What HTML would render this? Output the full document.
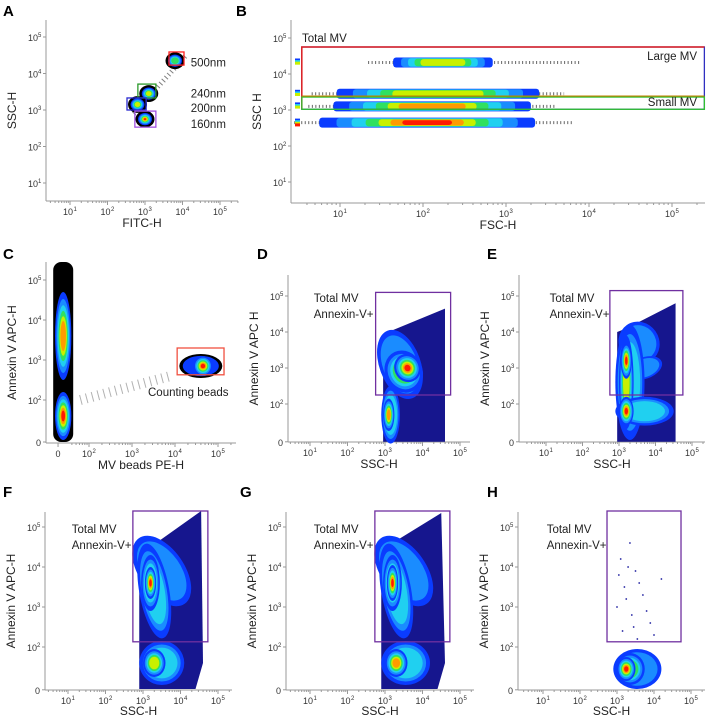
<!DOCTYPE html>
<html><head><meta charset="utf-8"><style>
html,body{margin:0;padding:0;background:#fff}
svg{display:block;font-family:"Liberation Sans",sans-serif}
</style></head><body>
<svg id="fig" width="708" height="718" viewBox="0 0 708 718" xmlns="http://www.w3.org/2000/svg"></svg>
<script>
// ---- data (log10 units) ----
const colors = ['#000000','#0a3cff','#1a8cff','#20d0f0','#30e060','#c8f000','#ff9a00','#ff1a00'];
const navy = '#16168e';
const levelScale = [1,0.84,0.7,0.57,0.45,0.34,0.23,0.13];

// Panel A bead populations
const aPopX = [3.8, 3.1, 2.8, 3.0];
const aPopY = [4.35, 3.45, 3.15, 2.75];
const aPopPeak = [4, 5, 5, 7];
const aBoxX0 = [3.64, 2.81, 2.52, 2.73];
const aBoxX1 = [4.04, 3.29, 3.03, 3.29];
const aBoxY0 = [4.23, 3.33, 3.0, 2.53];
const aBoxY1 = [4.59, 3.71, 3.33, 2.97];
const aBoxColor = ['#ff2020','#2a9a2a','#2a2ad0','#a050e0'];
const aLabels = ['500nm','240nm','200nm','160nm'];
const aLabelY = [4.3, 3.45, 3.05, 2.62];

// Panel B bands
const bBandY = [4.32, 3.45, 3.1, 2.65];
const bBandX0 = [1.64, 0.96, 0.92, 0.75];
const bBandX1 = [2.84, 3.4, 3.3, 3.35];
const bTailX = [3.9, 3.7, 3.6, 3.8];
const bBandPeak = [5, 5, 6, 7];
const bGateTotal = [0.54, 5.39, 3.02, 4.75];
const bGateSmall = [0.54, 5.39, 3.02, 3.36];

// Panel C
const cColX = 1.4;
const cBlobY = [3.6, 1.6];
const cBlobRy = [1.1, 0.6];
const cBlobPeak = [6, 7];
const cBeads = [4.6, 2.85];
const cGate = [4.05, 5.14, 2.63, 3.3];

// Panels D-H: background outline, blobs [cx,cy,rx,ry,rot,peak], gate
const dBgX = [2.95,2.95,3.2,4.6,4.6];
const dBgY = [0.95,3.85,4.05,4.65,0.95];
const dBlobs = [[3.4,3.1,0.55,1.0,-20,2],[3.5,2.9,0.5,0.6,-25,4],[3.6,3.0,0.35,0.4,-25,7],[3.15,1.7,0.25,0.8,0,3],[3.1,1.7,0.15,0.45,0,6]];
const dGate = [2.75,4.75,2.25,5.1];

const eBgX = [2.95,2.95,3.2,4.55,4.55];
const eBgY = [0.95,4.0,4.1,4.8,0.95];
const eBlobs = [[3.55,3.7,0.55,0.6,-35,2],[3.7,3.0,0.5,0.3,-20,2],[3.3,2.6,0.4,1.6,0,3],[3.2,2.6,0.2,1.3,0,5],[3.2,3.2,0.15,0.5,0,7],[3.7,1.8,0.8,0.4,0,3],[3.2,1.8,0.2,0.4,0,7]];
const eGate = [2.75,4.75,2.25,5.15];

const fBgX = [2.9,2.9,3.2,4.55,4.6,4.4];
const fBgY = [0.95,4.3,4.5,5.4,1.6,0.95];
const fBlobs = [[3.5,3.9,0.6,1.0,-35,2],[3.3,3.4,0.4,1.2,-10,3],[3.2,3.6,0.25,0.7,0,5],[3.2,3.6,0.15,0.4,0,7],[3.5,1.6,0.6,0.55,0,3],[3.3,1.6,0.3,0.35,0,5]];
const fGate = [2.73,4.73,2.13,5.4];

const gBgX = [2.9,2.9,3.2,4.5,4.6,4.4];
const gBgY = [0.95,4.3,4.6,5.35,1.6,0.95];
const gBlobs = [[3.5,3.9,0.6,1.0,-35,2],[3.3,3.4,0.4,1.2,-10,3],[3.2,3.6,0.25,0.7,0,5],[3.2,3.6,0.15,0.45,0,7],[3.55,1.6,0.65,0.55,0,3],[3.3,1.6,0.3,0.35,0,6]];
const gGate = [2.73,4.73,2.13,5.4];

const hBlobs = [[3.55,1.45,0.65,0.5,0,2],[3.35,1.45,0.4,0.4,0,4],[3.25,1.45,0.25,0.3,0,7]];
const hDotsX = [3.1,3.3,3.5,3.2,3.7,3.0,3.4,3.9,3.6,3.25,3.15,3.45,3.8,4.2,3.35,3.05,3.55,4.0];
const hDotsY = [4.2,4.0,3.9,3.5,3.3,3.0,2.8,2.6,3.6,3.2,2.4,2.5,2.9,3.7,4.6,3.8,2.2,2.3];
const hGate = [2.73,4.73,2.13,5.4];

// ---- helpers ----
const NS='http://www.w3.org/2000/svg';
const svg=document.getElementById('fig');
function mk(tag,attrs,parent){const e=document.createElementNS(NS,tag);for(const k in attrs)e.setAttribute(k,attrs[k]);(parent||svg).appendChild(e);return e;}
function sx(p,l){return p.x0+(l-p.ax)*p.kx;}
function sy(p,l){return p.y0-(l-p.ay)*p.ky;}

function axes(p,g,xt,yt,xtitle,ytitle,letter,lx,ly){
  const ax=mk('g',{},g);
  
  
  mk('line',{x1:p.left,y1:p.top,x2:p.left,y2:p.bottom,stroke:'#999','stroke-width':1},ax);
  mk('line',{x1:p.left,y1:p.bottom,x2:p.right,y2:p.bottom,stroke:'#999','stroke-width':1},ax);
  for(let d=0;d<=5;d++){for(let k=2;k<10;k++){const l=d+Math.log10(k);const x=sx(p,l);if(x>p.left+2&&x<p.right&&l>p.xminor)mk('line',{x1:x,y1:p.bottom,x2:x,y2:p.bottom+2,stroke:'#999'},ax);}}
  xt.forEach(t=>{const x=sx(p,t[0]);mk('line',{x1:x,y1:p.bottom,x2:x,y2:p.bottom+4,stroke:'#999'},ax);
    const tx=mk('text',{x:t[1]==='0'?x:x-2,y:p.bottom+14,'font-size':9,'text-anchor':'middle',fill:'#333'},ax);
    
    if(t[1]==='0')tx.textContent='0';else{tx.textContent='10';
      const s=mk('text',{x:x+3.5,y:p.bottom+10,'font-size':6,fill:'#333'},ax);
      s.textContent=t[1];}});
  yt.forEach(t=>{const y=sy(p,t[0]);mk('line',{x1:p.left-3,y1:y,x2:p.left,y2:y,stroke:'#999'},ax);
    const tx=mk('text',{x:p.left-(t[1]==='0'?5:8),y:y+4,'font-size':9,'text-anchor':'end',fill:'#333'},ax);
    
    if(t[1]==='0')tx.textContent='0';else{tx.textContent='10';
      const s=mk('text',{x:p.left-8,y:y,'font-size':6,fill:'#333'},ax);
      s.textContent=t[1];}});
  const xtl=mk('text',{x:(p.left+p.right)/2,y:Math.min(p.bottom+26,715),'font-size':12,'text-anchor':'middle',fill:'#222'},g);
  xtl.textContent=xtitle;
  const ytx=p.left-30, yty=(p.top+p.bottom)/2;
  const ytl=mk('text',{x:ytx,y:yty,'font-size':12,'text-anchor':'middle',fill:'#222',transform:`rotate(-90 ${ytx} ${yty})`},g);
  ytl.textContent=ytitle;
  const lt=mk('text',{x:lx,y:ly,'font-size':15,'font-weight':'bold',fill:'#000'},g);
  lt.textContent=letter;
}
function blob(g,p,b,start,halo){
  const cx=sx(p,b[0]),cy=sy(p,b[1]);
  for(let k=start;k<=b[5];k++){
    const s=levelScale[k-start]*(halo&&k===0?1.15:1);
    const e=mk('ellipse',{cx:cx,cy:cy,rx:b[2]*p.kx*s,ry:b[3]*p.ky*s,fill:colors[k],transform:`rotate(${b[4]} ${cx} ${cy})`},g);
    
    
  }
}
function gateRect(g,p,gt,color,name){
  const r=mk('rect',{x:sx(p,gt[0]),y:sy(p,gt[3]),width:sx(p,gt[1])-sx(p,gt[0]),height:sy(p,gt[2])-sy(p,gt[3]),fill:'none',stroke:color,'stroke-width':1.3},g);
  
  
}
function txt(g,x,y,s,name,anchor){const t=mk('text',{x:x,y:y,'font-size':11.5,fill:'#222','text-anchor':anchor||'start'},g);
  t.textContent=s;return t;}
const decTicks=[[1,'1'],[2,'2'],[3,'3'],[4,'4'],[5,'5']];

// ---- Panel A ----
(function(){
  const p={x0:70,ax:1,kx:37.5,y0:110,ay:3,ky:36.5,left:46,right:238,top:20,bottom:201,xminor:0.4};
  const g=mk('g',{});
  axes(p,g,decTicks,decTicks,'FITC-H','SSC-H','A',3,16);
  const st=mk('line',{x1:sx(p,2.7),y1:sy(p,2.9),x2:sx(p,4.1),y2:sy(p,4.5),stroke:'#000','stroke-width':5,'stroke-dasharray':'1 3',opacity:0.5},g);
  
  aPopX.forEach((x,i)=>blob(g,p,[x,aPopY[i],0.22,0.2,0,aPopPeak[i]],0,true));
  aBoxX0.forEach((x,i)=>gateRect(g,p,[x,aBoxX1[i],aBoxY0[i],aBoxY1[i]],aBoxColor[i],'gate-'+aLabels[i]));
  aLabels.forEach((s,i)=>txt(g,sx(p,4.22),sy(p,aLabelY[i])+4,s,'label-'+s));
})();

// ---- Panel B ----
(function(){
  const p={x0:340,ax:1,kx:83,y0:110,ay:3,ky:36,left:291,right:705,top:20,bottom:203,xminor:0.55};
  const g=mk('g',{});
  axes(p,g,decTicks,decTicks,'FSC-H','SSC H','B',236,16);
  bBandY.forEach((y,i)=>{
    const yc=sy(p,y);
    const tl=mk('line',{x1:sx(p,bBandX0[i])-25,y1:yc,x2:sx(p,bTailX[i]),y2:yc,stroke:'#000','stroke-width':3,'stroke-dasharray':'1 2.5',opacity:0.6},g);
    
    const mid=(bBandX0[i]+bBandX1[i])/2,half=(bBandX1[i]-bBandX0[i])/2;
    for(let k=1;k<=bBandPeak[i];k++){
      const s=levelScale[k-1];
      const r=mk('rect',{x:sx(p,mid-half*s),y:yc-5*Math.sqrt(s),width:2*half*s*p.kx,height:10*Math.sqrt(s),fill:colors[k],rx:3},g);
      
    }
    for(let k=1;k<=Math.min(bBandPeak[i],7);k+=2){
      const r=mk('rect',{x:295,y:yc-4+(k-1)*0.8,width:5,height:3,fill:colors[k]},g);
      
    }
  });
  gateRect(g,p,bGateTotal,'#3030c0','gate-total-mv');
  const rl=mk('polyline',{points:`${sx(p,bGateTotal[1])},${sy(p,bGateTotal[3])} ${sx(p,bGateTotal[0])},${sy(p,bGateTotal[3])} ${sx(p,bGateTotal[0])},${sy(p,bGateTotal[2])}`,fill:'none',stroke:'#e02020','stroke-width':1.5},g);
  
  gateRect(g,p,bGateSmall,'#30c030','gate-small-mv');
  const ol=mk('line',{x1:sx(p,bGateSmall[0]),y1:sy(p,bGateSmall[3])-1,x2:sx(p,bGateSmall[1]),y2:sy(p,bGateSmall[3])-1,stroke:'#c08000','stroke-width':1.2},g);
  
  txt(g,302,42,'Total MV','label-total-mv');
  txt(g,697,60,'Large MV','label-large-mv','end');
  txt(g,697,106,'Small MV','label-small-mv','end');
})();

// ---- Panel C ----
(function(){
  const p={x0:89,ax:2,kx:43,y0:360,ay:3,ky:40,left:46,right:236,top:262,bottom:443,xminor:1.6};
  const g=mk('g',{});
  axes(p,g,[[1.28,'0'],[2,'2'],[3,'3'],[4,'4'],[5,'5']],[[0.95,'0'],[2,'2'],[3,'3'],[4,'4'],[5,'5']],'MV beads PE-H','Annexin V APC-H','C',3,259);
  const col=mk('rect',{x:sx(p,cColX)-10,y:sy(p,5.45),width:20,height:sy(p,0.95)-sy(p,5.45),rx:8,fill:'#000'},g);
  
  const sp=mk('line',{x1:sx(p,1.8),y1:sy(p,2.0),x2:sx(p,3.9),y2:sy(p,2.6),stroke:'#000','stroke-width':10,'stroke-dasharray':'1 5',opacity:0.3},g);
  
  cBlobY.forEach((y,i)=>blob(g,p,[cColX,y,0.19,cBlobRy[i],0,cBlobPeak[i]],1,false));
  blob(g,p,[cBeads[0],cBeads[1],0.5,0.3,0,1],0,false);
  blob(g,p,[cBeads[0]+0.05,cBeads[1],0.22,0.25,0,7],1,false);
  gateRect(g,p,cGate,'#f05040','gate-counting-beads');
  txt(g,148,396,'Counting beads','label-counting-beads');
})();

// ---- Panels D-H ----
function densityPanel(name,letter,p,bgX,bgY,blobs,gate,lx,ly,ylab,xlab){
  const g=mk('g',{});
  axes(p,g,decTicks,[[p.zero,'0'],[2,'2'],[3,'3'],[4,'4'],[5,'5']],xlab,ylab,letter,lx,ly);
  if(bgX){
    const pts=bgX.map((x,i)=>sx(p,x)+','+sy(p,bgY[i])).join(' ');
    const pg=mk('polygon',{points:pts,fill:navy},g);
    
  }
  blobs.forEach(b=>blob(g,p,b,1,false));
  gateRect(g,p,gate,'#7030a0','gate-annexin-v-positive');
  txt(g,sx(p,1.1),sy(p,5)+6,'Total MV','label-total-mv');
  txt(g,sx(p,1.1),sy(p,5)+22,'Annexin-V+','label-annexin-v-positive');
  return g;
}
densityPanel('panel-d','D',{x0:310,ax:1,kx:37.5,y0:368,ay:3,ky:36,zero:0.95,left:288,right:470,top:275,bottom:442,xminor:0.4},dBgX,dBgY,dBlobs,dGate,257,259,'Annexin V APC H','SSC-H');
densityPanel('panel-e','E',{x0:546,ax:1,kx:36.5,y0:368,ay:3,ky:36,zero:0.95,left:519,right:705,top:275,bottom:442,xminor:0.4},eBgX,eBgY,eBlobs,eGate,487,259,'Annexin V APC-H','SSC-H');
densityPanel('panel-f','F',{x0:68,ax:1,kx:37.5,y0:607,ay:3,ky:40,zero:0.93,left:45,right:232,top:512,bottom:690,xminor:0.4},fBgX,fBgY,fBlobs,fGate,3,497,'Annexin V APC-H','SSC-H');
densityPanel('panel-g','G',{x0:310,ax:1,kx:37.5,y0:607,ay:3,ky:40,zero:0.93,left:286,right:474,top:512,bottom:690,xminor:0.4},gBgX,gBgY,gBlobs,gGate,240,497,'Annexin V APC-H','SSC-H');
(function(){
  const p={x0:543,ax:1,kx:37,y0:607,ay:3,ky:40,zero:0.93,left:518,right:705,top:512,bottom:690,xminor:0.4};
  const g=densityPanel('panel-h','H',p,null,null,[],hGate,487,497,'Annexin V APC-H','SSC-H');
  hDotsX.forEach((x,i)=>{const c=mk('circle',{cx:sx(p,x),cy:sy(p,hDotsY[i]),r:0.9,fill:'#2020a0'},g);
    });
  hBlobs.forEach(b=>blob(g,p,b,1,false));
})();
</script>
</body></html>
